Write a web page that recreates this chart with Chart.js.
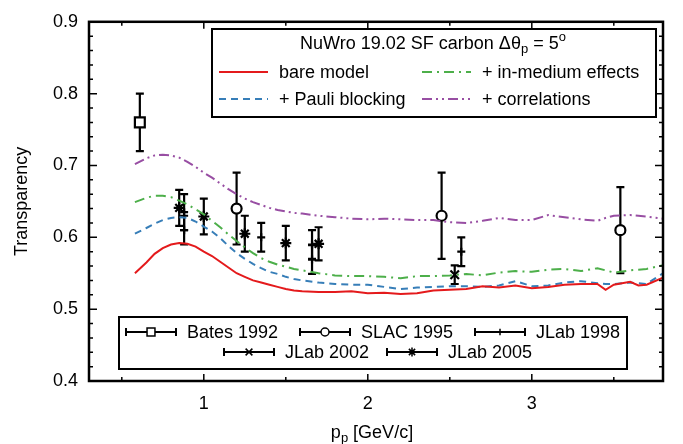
<!DOCTYPE html>
<html>
<head>
<meta charset="utf-8">
<title>Transparency vs proton momentum</title>
<script src="https://cdn.jsdelivr.net/npm/chart.js@4.4.1/dist/chart.umd.min.js"></script>
<style>
  html, body { margin: 0; padding: 0; background: #fff; }
</style>
</head>
<body>
<canvas id="chart" width="683" height="444"></canvas>
<script>
// NuWro 19.02 SF carbon, sampled on a common momentum grid (GeV/c)
const curveP = [0.58, 0.65, 0.7, 0.75, 0.8, 0.85, 0.9, 0.95, 1.0, 1.05, 1.1, 1.15, 1.2, 1.25, 1.3, 1.35, 1.4, 1.45, 1.5, 1.55, 1.6,
  1.7, 1.8, 1.9, 2.0, 2.1, 2.2, 2.3, 2.4, 2.5, 2.6, 2.7, 2.8, 2.9, 3.0, 3.1, 3.2, 3.3, 3.4, 3.45, 3.5, 3.6, 3.65, 3.7, 3.8];
const bareModel = [0.550, 0.565, 0.577, 0.585, 0.590, 0.592, 0.591, 0.587, 0.580, 0.574, 0.566, 0.558, 0.550, 0.545, 0.540, 0.537, 0.534, 0.531, 0.528, 0.526, 0.525,
  0.524, 0.524, 0.525, 0.522, 0.523, 0.521, 0.522, 0.526, 0.527, 0.528, 0.532, 0.530, 0.533, 0.529, 0.531, 0.534, 0.535, 0.535, 0.527, 0.534, 0.538, 0.533, 0.534, 0.544];
const pauliBlocking = [0.605, 0.613, 0.619, 0.624, 0.627, 0.628, 0.627, 0.622, 0.615, 0.608, 0.599, 0.588, 0.578, 0.570, 0.563, 0.557, 0.552, 0.549, 0.545, 0.542, 0.540,
  0.537, 0.535, 0.534, 0.534, 0.531, 0.528, 0.530, 0.531, 0.532, 0.532, 0.531, 0.533, 0.539, 0.532, 0.533, 0.537, 0.539, 0.536, 0.535, 0.535, 0.537, 0.536, 0.535, 0.550];
const inMedium = [0.649, 0.655, 0.658, 0.658, 0.656, 0.651, 0.646, 0.639, 0.632, 0.623, 0.614, 0.604, 0.595, 0.586, 0.578, 0.571, 0.566, 0.562, 0.559, 0.556, 0.554,
  0.550, 0.547, 0.546, 0.546, 0.545, 0.543, 0.546, 0.546, 0.547, 0.549, 0.547, 0.551, 0.553, 0.552, 0.555, 0.556, 0.553, 0.557, 0.554, 0.551, 0.554, 0.555, 0.556, 0.561];
const correlations = [0.702, 0.710, 0.714, 0.715, 0.714, 0.711, 0.705, 0.698, 0.690, 0.683, 0.675, 0.667, 0.660, 0.654, 0.649, 0.645, 0.641, 0.638, 0.636, 0.634, 0.633,
  0.630, 0.628, 0.626, 0.625, 0.626, 0.625, 0.624, 0.624, 0.621, 0.620, 0.623, 0.627, 0.624, 0.624, 0.631, 0.628, 0.625, 0.623, 0.627, 0.630, 0.631, 0.630, 0.629, 0.626];

// measurements: momentum, transparency, error
const batesP = [0.61];
const batesT = [0.76];
const batesErr = [0.04];
const slacP = [1.2, 2.45, 3.54];
const slacT = [0.64, 0.63, 0.61];
const slacErr = [0.05, 0.06, 0.06];
const jlab98P = [0.88, 0.88, 1.35, 1.66, 1.66, 2.57];
const jlab98T = [0.635, 0.61, 0.60, 0.59, 0.569, 0.58];
const jlab98Err = [0.025, 0.02, 0.02, 0.02, 0.02, 0.02];
const jlab02P = [2.53];
const jlab02T = [0.548];
const jlab02Err = [0.013];
const jlab05P = [0.85, 1.0, 1.25, 1.5, 1.70];
const jlab05T = [0.641, 0.629, 0.605, 0.592, 0.591];
const jlab05Err = [0.025, 0.025, 0.025, 0.024, 0.023];

const FONT = "'Liberation Sans', Arial, Helvetica, sans-serif";

function pts(xs, ys) {
    return xs.map((x, i) => ({ x: x, y: ys[i] }));
}

const curves = [
    { label: 'bare model', values: bareModel, color: '#e41a1c', dash: [] },
    { label: '+ Pauli blocking', values: pauliBlocking, color: '#377eb8', dash: [7, 5] },
    { label: '+ in-medium effects', values: inMedium, color: '#4daf4a', dash: [10, 5, 2, 5] },
    { label: '+ correlations', values: correlations, color: '#984ea3', dash: [10, 4, 2, 4, 2, 4] }
];

const measurements = [
    { label: 'Bates 1992', p: batesP, t: batesT, err: batesErr, style: 'rect', radius: 7 },
    { label: 'SLAC 1995', p: slacP, t: slacT, err: slacErr, style: 'circle', radius: 5 },
    { label: 'JLab 1998', p: jlab98P, t: jlab98T, err: jlab98Err, style: 'cross', radius: 4 },
    { label: 'JLab 2002', p: jlab02P, t: jlab02T, err: jlab02Err, style: 'crossRot', radius: 6 },
    { label: 'JLab 2005', p: jlab05P, t: jlab05T, err: jlab05Err, style: 'star', radius: 5.5 }
];

const datasets = [];
curves.forEach(c => {
    datasets.push({
        type: 'line',
        label: c.label,
        data: pts(curveP, c.values),
        borderColor: c.color,
        borderWidth: 2,
        borderDash: c.dash,
        pointRadius: 0,
        tension: 0,
        fill: false
    });
});
measurements.forEach(m => {
    datasets.push({
        type: 'scatter',
        label: m.label,
        data: pts(m.p, m.t),
        err: m.err,
        pointStyle: m.style,
        pointRadius: m.radius,
        pointBorderWidth: 2.2,
        pointBorderColor: '#000',
        pointBackgroundColor: '#fff',
        showLine: false
    });
});

function drawErrorBar(ctx, px, top, bot, cap) {
    ctx.beginPath();
    ctx.moveTo(px, top); ctx.lineTo(px, bot);
    ctx.moveTo(px - cap, top); ctx.lineTo(px + cap, top);
    ctx.moveTo(px - cap, bot); ctx.lineTo(px + cap, bot);
    ctx.stroke();
}

// vertical error bars, drawn under the markers
const errorBars = {
    id: 'errorBars',
    beforeDatasetsDraw(chart) {
        const { ctx, scales: { x, y } } = chart;
        ctx.save();
        ctx.strokeStyle = '#000';
        ctx.lineWidth = 2.2;
        chart.data.datasets.forEach(ds => {
            if (!ds.err) return;
            ds.data.forEach((pt, i) => {
                drawErrorBar(ctx, x.getPixelForValue(pt.x),
                    y.getPixelForValue(pt.y + ds.err[i]),
                    y.getPixelForValue(pt.y - ds.err[i]), 4);
            });
        });
        ctx.restore();
    }
};

// text with a sub/superscript piece: parts = [[text, shift], ...]
function drawRich(ctx, parts, x, y, size, align) {
    const small = Math.round(size * 0.72);
    let total = 0;
    parts.forEach(p => {
        ctx.font = (p[1] ? small : size) + 'px ' + FONT;
        total += ctx.measureText(p[0]).width;
    });
    let cx = align === 'center' ? x - total / 2 : x;
    ctx.textAlign = 'left';
    parts.forEach(p => {
        ctx.font = (p[1] ? small : size) + 'px ' + FONT;
        ctx.fillText(p[0], cx, y + p[1]);
        cx += ctx.measureText(p[0]).width;
    });
}

const decorations = {
    id: 'decorations',
    afterDraw(chart) {
        const { ctx, chartArea: a, scales: { x, y } } = chart;
        ctx.save();
        ctx.strokeStyle = '#000';
        ctx.fillStyle = '#000';

        // inward ticks on all four sides
        ctx.lineWidth = 1.5;
        ctx.beginPath();
        for (let k = 20; k <= 45; k++) {
            const py = y.getPixelForValue(k * 0.02);
            const len = k % 5 === 0 ? 8 : 4;
            ctx.moveTo(a.left, py); ctx.lineTo(a.left + len, py);
            ctx.moveTo(a.right, py); ctx.lineTo(a.right - len, py);
        }
        for (let k = 1; k <= 7; k++) {
            const px = x.getPixelForValue(k * 0.5);
            const len = k % 2 === 0 ? 7 : 4;
            ctx.moveTo(px, a.bottom); ctx.lineTo(px, a.bottom - len);
            ctx.moveTo(px, a.top); ctx.lineTo(px, a.top + len);
        }
        ctx.stroke();

        // frame
        ctx.lineWidth = 2.5;
        ctx.strokeRect(a.left, a.top, a.right - a.left, a.bottom - a.top);

        // axis titles
        ctx.textBaseline = 'alphabetic';
        drawRich(ctx, [['p', 0], ['p', 4], [' [GeV/c]', 0]], (a.left + a.right) / 2 - 4, 438, 18, 'center');
        ctx.save();
        ctx.translate(27, (a.top + a.bottom) / 2);
        ctx.rotate(-Math.PI / 2);
        ctx.font = '18px ' + FONT;
        ctx.textAlign = 'center';
        ctx.fillText('Transparency', 0, 0);
        ctx.restore();

        // model legend
        ctx.fillStyle = '#fff';
        ctx.fillRect(212, 29, 444, 88);
        ctx.lineWidth = 2;
        ctx.strokeRect(212, 29, 444, 88);
        ctx.fillStyle = '#000';
        ctx.textBaseline = 'middle';
        drawRich(ctx, [['NuWro 19.02 SF carbon \u0394\u03b8', 0], ['p', 5], [' = 5', 0], ['o', -7]], 433, 44, 18, 'center');
        const slots = [[219, 72], [219, 99], [422, 72], [422, 99]];
        curves.forEach((c, i) => {
            const [sx, sy] = slots[i];
            ctx.strokeStyle = c.color;
            ctx.lineWidth = 2;
            ctx.setLineDash(c.dash);
            ctx.beginPath();
            ctx.moveTo(sx, sy); ctx.lineTo(sx + 49, sy);
            ctx.stroke();
            ctx.setLineDash([]);
            ctx.font = '18px ' + FONT;
            ctx.textAlign = 'left';
            ctx.fillText(c.label, sx + 60, sy + 1);
        });

        // data legend
        ctx.fillStyle = '#fff';
        ctx.fillRect(119, 317, 508, 52);
        ctx.strokeStyle = '#000';
        ctx.lineWidth = 2;
        ctx.strokeRect(119, 317, 508, 52);
        const mslots = [[126, 332], [300, 332], [475, 332], [224, 352], [387, 352]];
        measurements.forEach((m, i) => {
            const [sx, sy] = mslots[i];
            ctx.strokeStyle = '#000';
            ctx.lineWidth = 2;
            ctx.beginPath();
            ctx.moveTo(sx, sy); ctx.lineTo(sx + 50, sy);
            ctx.moveTo(sx, sy - 4); ctx.lineTo(sx, sy + 4);
            ctx.moveTo(sx + 50, sy - 4); ctx.lineTo(sx + 50, sy + 4);
            ctx.stroke();
            ctx.fillStyle = '#fff';
            ctx.lineWidth = 1.5;
            Chart.helpers.drawPoint(ctx, { pointStyle: m.style, radius: m.radius * 0.8, rotation: 0, borderWidth: 1.5 }, sx + 25, sy);
            ctx.fillStyle = '#000';
            ctx.font = '18px ' + FONT;
            ctx.textAlign = 'left';
            ctx.fillText(m.label, sx + 61, sy + 1);
        });
        ctx.restore();
    }
};

new Chart(document.getElementById('chart'), {
    data: { datasets: datasets },
    plugins: [errorBars, decorations],
    options: {
        responsive: false,
        animation: false,
        layout: { padding: { top: 14, right: 20, left: 0, bottom: 0 } },
        plugins: {
            legend: { display: false },
            tooltip: { enabled: false }
        },
        scales: {
            x: {
                type: 'linear',
                min: 0.3,
                max: 3.8,
                grid: { display: false, drawTicks: false },
                border: { display: false },
                ticks: {
                    stepSize: 1,
                    includeBounds: false,
                    padding: 12,
                    color: '#000',
                    font: { family: FONT, size: 18 },
                    maxRotation: 0
                },
                afterFit: scale => { scale.height = 63; }
            },
            y: {
                type: 'linear',
                min: 0.4,
                max: 0.9,
                grid: { display: false, drawTicks: false },
                border: { display: false },
                ticks: {
                    stepSize: 0.1,
                    padding: 11,
                    color: '#000',
                    font: { family: FONT, size: 18 },
                    callback: v => v.toFixed(1)
                },
                afterFit: scale => { scale.width = 89; }
            }
        }
    }
});
</script>
</body>
</html>
